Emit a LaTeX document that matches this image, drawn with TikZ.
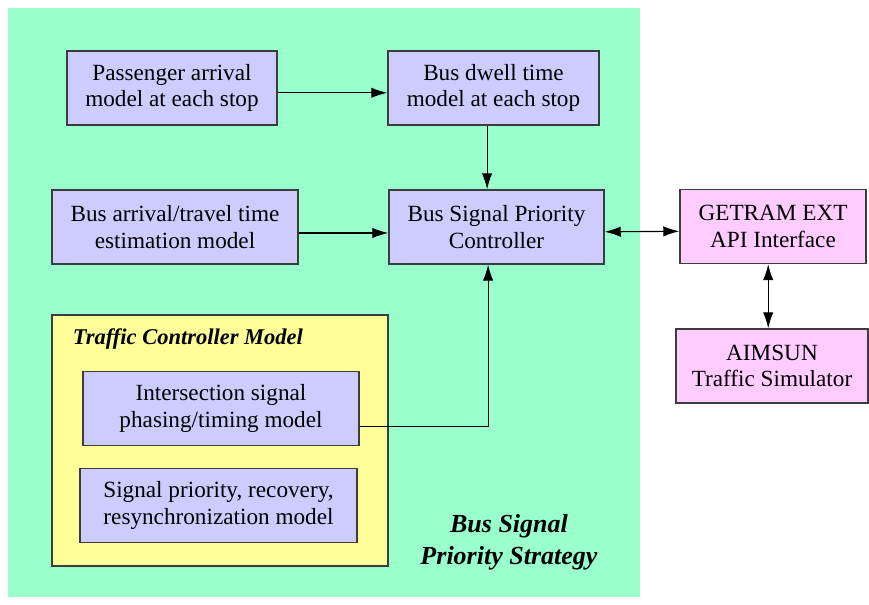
\documentclass[tikz,border=0pt]{standalone}
\usepackage{fontspec}
\IfFontExistsTF{LiberationSerif-Regular.ttf}
  {\setmainfont{LiberationSerif}[Extension=.ttf, UprightFont=*-Regular, BoldFont=*-Bold, ItalicFont=*-Italic, BoldItalicFont=*-BoldItalic]}
  {\setmainfont{Latin Modern Roman}}
\usetikzlibrary{arrows.meta, positioning, backgrounds}

\definecolor{strategybg}{RGB}{153,255,204}
\definecolor{modelfill}{RGB}{204,204,255}
\definecolor{simfill}{RGB}{255,204,255}
\definecolor{tcmfill}{RGB}{255,255,153}
\definecolor{boxline}{RGB}{60,60,60}

\begin{document}
\begin{tikzpicture}[
    x=0.025cm, y=-0.025cm,
    >={Latex[length=4mm,width=2.6mm]},
    model/.style={rectangle, minimum height=1.85cm, align=center, draw=boxline, fill=modelfill, line width=1pt, font=\fontsize{16.5}{19}\selectfont, inner sep=0pt},
    sim/.style={rectangle, minimum height=1.85cm, align=center, draw=boxline, fill=simfill, line width=1pt, font=\fontsize{16.5}{19}\selectfont, inner sep=0pt},
    link/.style={->, line width=0.8pt}
]
\useasboundingbox (0,0) rectangle (869,605);

% Strategy background
\fill[strategybg] (8,8) rectangle (640,597);
\node[font=\bfseries\itshape\fontsize{18.5}{23}\selectfont, align=center] (strategy) at (509,542) {Bus Signal\\Priority Strategy};

% Traffic controller model
\draw[fill=tcmfill, draw=boxline, line width=1pt] (52,315) rectangle (388,566);
\node[anchor=west, font=\bfseries\itshape\fontsize{16}{18}\selectfont] (tcmtitle) at (68,339) {Traffic Controller Model};
\node[model, minimum width=6.9cm] (phasing) at (221,408.5) {Intersection signal\\phasing/timing model};
\node[model, minimum width=6.925cm] (recovery) at (218.5,505.5) {Signal priority, recovery,\\resynchronization model};

% Strategy models
\node[model, minimum width=5.25cm] (passenger) at (172,88) {Passenger arrival\\model at each stop};
\node[model, minimum width=5.275cm] (dwell) at (493.5,88) {Bus dwell time\\model at each stop};
\node[model, minimum width=6.15cm] (arrival) at (175,227) {Bus arrival/travel time\\estimation model};
\node[model, minimum width=5.375cm] (controller) at (496.5,227) {Bus Signal Priority\\Controller};

% Simulation side
\node[sim, minimum width=4.65cm] (getram) at (773,226.5) {GETRAM EXT\\API Interface};
\node[sim, minimum width=4.8cm] (aimsun) at (772,366) {AIMSUN\\Traffic Simulator};

% Arrows
\draw[link] ([yshift=-0.12cm]passenger.east) -- ([yshift=-0.12cm]dwell.west);
\draw[link] ([xshift=-0.16cm]dwell.south) -- ([xshift=-0.16cm]dwell.south |- controller.north);
\draw[link] ([yshift=-0.15cm]arrival.east) -- ([yshift=-0.15cm]controller.west);
\draw[link] ([yshift=-0.46cm]phasing.east) -| ([xshift=-0.21cm]controller.south);
\draw[link, <->] ([yshift=-0.12cm]controller.east) -- ([yshift=-0.12cm]getram.west);
\draw[link, <->] ([xshift=-0.12cm]getram.south) -- ([xshift=-0.12cm]getram.south |- aimsun.north);

\end{tikzpicture}
\end{document}
